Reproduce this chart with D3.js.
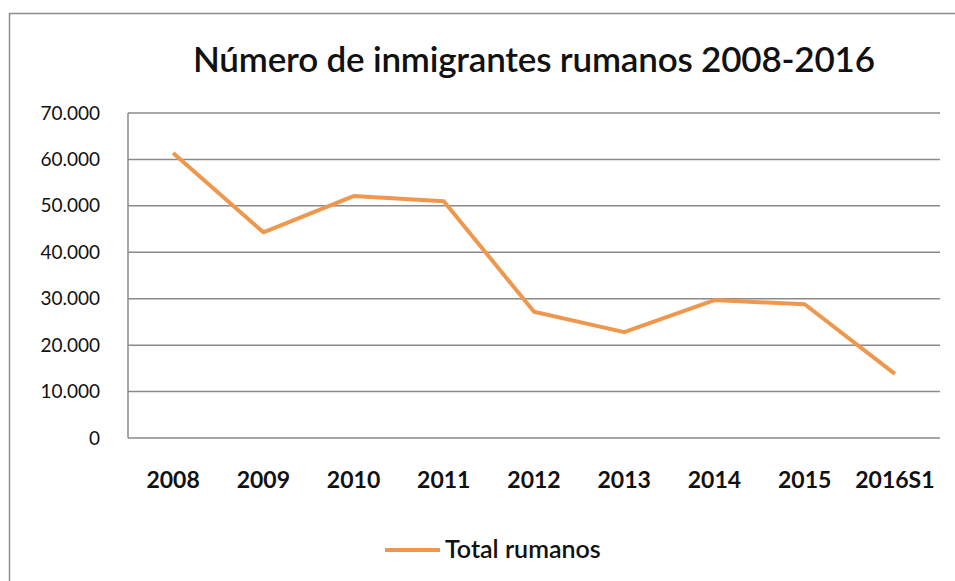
<!DOCTYPE html>
<html>
<head>
<meta charset="utf-8">
<script src="https://cdn.jsdelivr.net/npm/d3@7"></script>
<style>
  html, body { margin: 0; padding: 0; background: #fff; }
  svg { display: block; }
  text { font-family: Lato, "Open Sans", sans-serif; fill: #111; }
</style>
</head>
<body>
<svg id="chart" width="955" height="581"></svg>
<script>
// Romanian immigrants per year, 2008 to first half of 2016
const categories = ["2008", "2009", "2010", "2011", "2012", "2013", "2014", "2015", "2016S1"];
const totalRumanos = [61400, 44300, 52100, 51000, 27200, 22800, 29700, 28800, 13800];
const yTicks = [0, 10000, 20000, 30000, 40000, 50000, 60000, 70000];
const titleText = "Número de inmigrantes rumanos 2008-2016";
const seriesName = "Total rumanos";

const svg = d3.select("#chart");
const lineColor = "#EF974D";
const gridColor = "#8a8a8a";

// outer chart frame (left and top edges visible inside the page)
svg.append("rect")
  .attr("x", 9.5).attr("y", 13.5)
  .attr("width", 1000).attr("height", 1000)
  .attr("fill", "none").attr("stroke", "#8c8c8c").attr("stroke-width", 1.5);

const plot = { left: 128, right: 940, top: 113, bottom: 438 };

const x = d3.scaleBand().domain(categories).range([plot.left, plot.right]);
const y = d3.scaleLinear().domain([0, 70000]).range([plot.bottom, plot.top]);

const fmt = v => v === 0 ? "0" : d3.format(",")(v).replace(/,/g, ".");

// horizontal gridlines
svg.append("g")
  .selectAll("line")
  .data(yTicks)
  .join("line")
  .attr("x1", plot.left).attr("x2", plot.right)
  .attr("y1", d => y(d)).attr("y2", d => y(d))
  .attr("stroke", gridColor).attr("stroke-width", 1.5);

// vertical axis line
svg.append("line")
  .attr("x1", plot.left).attr("x2", plot.left)
  .attr("y1", plot.top).attr("y2", plot.bottom)
  .attr("stroke", gridColor).attr("stroke-width", 1.5);

// y axis labels
const yAxis = d3.axisLeft(y).tickValues(yTicks).tickFormat(fmt).tickSize(0).tickPadding(28);
const gy = svg.append("g").attr("transform", `translate(${plot.left},0)`).call(yAxis);
gy.select(".domain").remove();
gy.selectAll("text")
  .style("font-family", "Lato, sans-serif")
  .style("font-size", "19px")
  .attr("fill", "#111");

// x axis labels
const xAxis = d3.axisBottom(x).tickSize(0);
const gx = svg.append("g").attr("transform", `translate(0,${plot.bottom})`).call(xAxis);
gx.select(".domain").remove();
gx.selectAll("text")
  .attr("y", 50).attr("dy", 0)
  .style("font-family", "Lato, sans-serif")
  .style("font-size", "23px")
  .style("font-weight", "bold")
  .attr("fill", "#111");

// series line
const line = d3.line()
  .x((d, i) => x(categories[i]) + x.bandwidth() / 2)
  .y(d => y(d));

svg.append("path")
  .datum(totalRumanos)
  .attr("d", line)
  .attr("fill", "none")
  .attr("stroke", lineColor)
  .attr("stroke-width", 4)
  .attr("stroke-linejoin", "round");

// title
svg.append("text")
  .attr("x", 193).attr("y", 72)
  .attr("textLength", 682)
  .attr("lengthAdjust", "spacing")
  .style("font-size", "35px")
  .style("font-weight", "600")
  .text(titleText);

// legend
svg.append("line")
  .attr("x1", 385).attr("x2", 440)
  .attr("y1", 550).attr("y2", 550)
  .attr("stroke", lineColor).attr("stroke-width", 4);
svg.append("text")
  .attr("x", 445).attr("y", 558)
  .style("font-size", "25px")
  .style("font-weight", "600")
  .text(seriesName);
</script>
</body>
</html>
